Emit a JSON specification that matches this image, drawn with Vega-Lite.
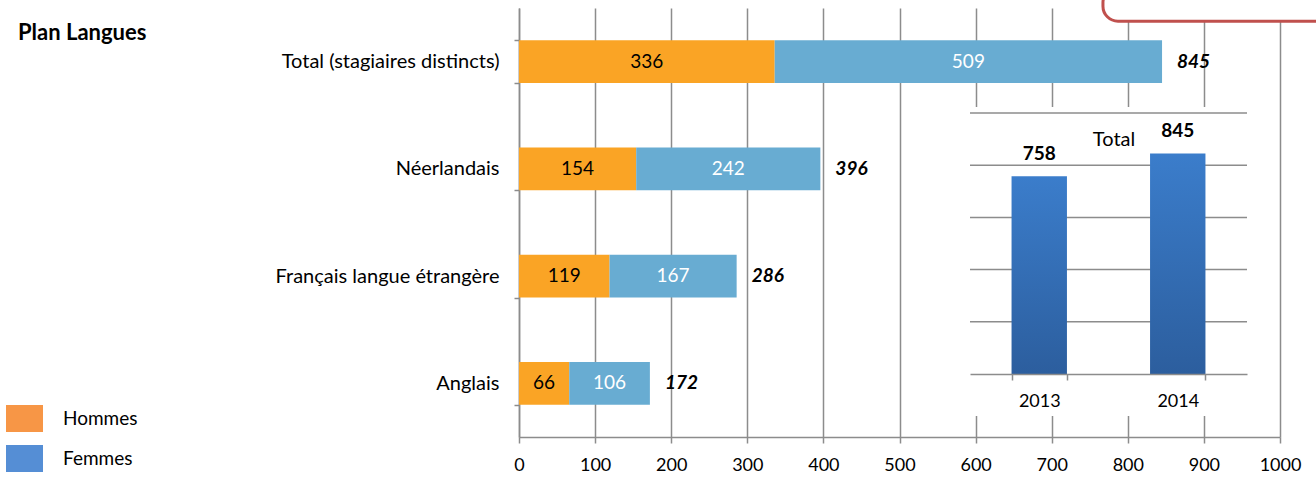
{
  "$schema": "https://vega.github.io/schema/vega-lite/v6.json",
  "width": 761,
  "height": 429,
  "autosize": "none",
  "padding": {"left": 519, "top": 8, "right": 36, "bottom": 40},
  "background": "white",
  "config": {
    "font": "Lato",
    "view": {"fill": "#e4ebf5", "stroke": null},
    "axis": {
      "labelFont": "Lato",
      "labelFontSize": 18,
      "labelColor": "black",
      "domainColor": "#8c8c8c",
      "tickColor": "#8c8c8c",
      "gridColor": "#8c8c8c",
      "gridOpacity": 1,
      "gridWidth": 1.5,
      "domainWidth": 1.5,
      "tickWidth": 1.5,
      "labelLimit": 0,
      "labelFlush": false
    },
    "text": {"font": "Lato"}
  },
  "title": {
    "text": "Plan Langues",
    "anchor": "start",
    "frame": "group",
    "orient": "top",
    "offset": 0,
    "dx": -501,
    "dy": 69,
    "baseline": "middle",
    "font": "Lato",
    "fontSize": 22,
    "fontWeight": "bold",
    "color": "black"
  },
  "datasets": {
    "langues": [
      {"cat": "Total (stagiaires distincts)", "sexe": "Hommes", "n": 336},
      {"cat": "Total (stagiaires distincts)", "sexe": "Femmes", "n": 509},
      {"cat": "Néerlandais", "sexe": "Hommes", "n": 154},
      {"cat": "Néerlandais", "sexe": "Femmes", "n": 242},
      {"cat": "Français langue étrangère", "sexe": "Hommes", "n": 119},
      {"cat": "Français langue étrangère", "sexe": "Femmes", "n": 167},
      {"cat": "Anglais", "sexe": "Hommes", "n": 66},
      {"cat": "Anglais", "sexe": "Femmes", "n": 106}
    ],
    "annees": [
      {"annee": "2013", "total": 758},
      {"annee": "2014", "total": 845}
    ]
  },
  "layer": [
    {
      "data": {"name": "langues"},
      "layer": [
        {
          "mark": {"type": "bar"},
          "encoding": {
            "y": {
              "field": "cat", "type": "nominal",
              "sort": ["Total (stagiaires distincts)", "Néerlandais", "Français langue étrangère", "Anglais"],
              "scale": {"paddingInner": 0.6, "paddingOuter": 0.3},
              "axis": {"title": null, "orient": "left", "tickBand": "extent", "tickSize": 5, "labelPadding": 15, "grid": false, "labelFontSize": 20}
            },
            "x": {
              "field": "n", "type": "quantitative", "stack": "zero",
              "scale": {"domain": [0, 1000], "nice": false},
              "axis": {"title": null, "orient": "bottom", "values": [0, 100, 200, 300, 400, 500, 600, 700, 800, 900, 1000], "format": "d", "grid": true, "tickSize": 6, "labelPadding": 13, "labelFontSize": 18, "labelFlush": false}
            },
            "color": {
              "field": "sexe", "type": "nominal",
              "scale": {"domain": ["Hommes", "Femmes"], "range": ["#faa425", "#68acd2"]},
              "legend": null
            },
            "order": {"field": "sexe", "sort": "descending"}
          }
        },
        {
          "mark": {"type": "text", "fontSize": 19, "baseline": "middle", "align": "center"},
          "encoding": {
            "y": {"field": "cat", "type": "nominal", "sort": ["Total (stagiaires distincts)", "Néerlandais", "Français langue étrangère", "Anglais"]},
            "x": {"field": "n", "type": "quantitative", "stack": "zero", "bandPosition": 0.5},
            "detail": {"field": "sexe"},
            "order": {"field": "sexe", "sort": "descending"},
            "text": {"field": "n", "type": "quantitative"},
            "color": {"condition": {"test": "datum.sexe === 'Femmes'", "value": "white"}, "value": "black"}
          }
        },
        {
          "mark": {"type": "text", "fontSize": 19, "fontWeight": "bold", "fontStyle": "italic", "align": "left", "baseline": "middle", "dx": 15, "color": "black"},
          "encoding": {
            "y": {"field": "cat", "type": "nominal", "sort": ["Total (stagiaires distincts)", "Néerlandais", "Français langue étrangère", "Anglais"]},
            "x": {"aggregate": "sum", "field": "n", "type": "quantitative"},
            "text": {"aggregate": "sum", "field": "n", "type": "quantitative"}
          }
        }
      ]
    },
    {
      "data": {"values": [{}]},
      "layer": [
        {
          "mark": {"type": "rect", "fill": "white", "stroke": null},
          "encoding": {
            "x": {"datum": 0.946, "type": "quantitative", "scale": {"domain": [0.946, 2.014], "range": [436.04, 731.88], "nice": false, "zero": false}, "axis": null},
            "x2": {"datum": 2.014},
            "y": {"datum": 839, "type": "quantitative", "scale": {"domain": [839, 2023], "range": [408.02, 99.0], "nice": false, "zero": false}, "axis": null},
            "y2": {"datum": 2023}
          }
        },
        {
          "mark": {"type": "rect", "fill": "white", "stroke": "#c0504d", "strokeWidth": 3, "cornerRadius": 15},
          "encoding": {
            "x": {"datum": 1.48, "type": "quantitative", "axis": null},
            "x2": {"datum": 2.5},
            "y": {"datum": 2352, "type": "quantitative", "axis": null},
            "y2": {"datum": 2480}
          }
        },
        {"mark": {"type": "rule", "color": "#8c8c8c", "strokeWidth": 1.5}, "encoding": {"x": {"datum": 1, "type": "quantitative", "axis": null}, "x2": {"datum": 2}, "y": {"datum": 1200, "type": "quantitative", "axis": null}}},
        {"mark": {"type": "rule", "color": "#8c8c8c", "strokeWidth": 1.5}, "encoding": {"x": {"datum": 1, "type": "quantitative", "axis": null}, "x2": {"datum": 2}, "y": {"datum": 1400, "type": "quantitative", "axis": null}}},
        {"mark": {"type": "rule", "color": "#8c8c8c", "strokeWidth": 1.5}, "encoding": {"x": {"datum": 1, "type": "quantitative", "axis": null}, "x2": {"datum": 2}, "y": {"datum": 1600, "type": "quantitative", "axis": null}}},
        {"mark": {"type": "rule", "color": "#8c8c8c", "strokeWidth": 1.5}, "encoding": {"x": {"datum": 1, "type": "quantitative", "axis": null}, "x2": {"datum": 2}, "y": {"datum": 1800, "type": "quantitative", "axis": null}}},
        {"mark": {"type": "rule", "color": "#8c8c8c", "strokeWidth": 1.5}, "encoding": {"x": {"datum": 1, "type": "quantitative", "axis": null}, "x2": {"datum": 2}, "y": {"datum": 2000, "type": "quantitative", "axis": null}}},
        {
          "mark": {"type": "text", "text": "Total", "fontSize": 20, "baseline": "middle", "align": "center", "color": "black"},
          "encoding": {
            "x": {"datum": 1.52, "type": "quantitative", "axis": null},
            "y": {"datum": 1895, "type": "quantitative", "axis": null}
          }
        }
      ]
    },
    {
      "data": {"name": "annees"},
      "layer": [
        {
          "mark": {
            "type": "bar",
            "color": {"gradient": "linear", "x1": 0, "y1": 0, "x2": 0, "y2": 1, "stops": [{"offset": 0, "color": "#3b7dcb"}, {"offset": 1, "color": "#2c5e9e"}]}
          },
          "encoding": {
            "x": {
              "field": "annee", "type": "nominal",
              "scale": {"range": [451, 728], "paddingInner": 0.6, "paddingOuter": 0.3},
              "axis": {"title": null, "orient": "bottom", "offset": -63, "tickBand": "extent", "labelAngle": 0, "tickSize": 6, "labelPadding": 12, "grid": false, "domain": true, "ticks": true, "labels": true, "labelFontSize": 18, "zindex": 1}
            },
            "y": {"field": "total", "type": "quantitative", "scale": {"domain": [0, 1000], "range": [366, 105], "nice": false, "zero": false}, "axis": null}
          }
        },
        {
          "mark": {"type": "text", "fontSize": 19, "fontWeight": "bold", "baseline": "alphabetic", "align": "center", "dy": -16, "color": "black"},
          "encoding": {
            "x": {"field": "annee", "type": "nominal"},
            "y": {"field": "total", "type": "quantitative", "axis": null},
            "text": {"field": "total", "type": "quantitative"}
          }
        }
      ]
    },
    {
      "data": {"name": "langues"},
      "transform": [{"filter": "false"}],
      "mark": {"type": "square"},
      "encoding": {
        "color": {
          "field": "sexe", "type": "nominal",
          "scale": {"domain": ["Hommes", "Femmes"], "range": ["#f79646", "#558ed5"]},
          "legend": {
            "orient": "none", "legendX": -513, "legendY": 392, "title": null,
            "symbolType": "M-1,-0.73H1V0.73H-1Z", "symbolSize": 1369, "symbolStrokeWidth": 0, "symbolOpacity": 1,
            "labelFontSize": 19, "labelFont": "Lato", "labelColor": "black", "labelOffset": 20, "rowPadding": 7, "padding": 0
          }
        }
      }
    }
  ],
  "resolve": {"scale": {"x": "independent", "y": "independent", "color": "independent"}}
}
